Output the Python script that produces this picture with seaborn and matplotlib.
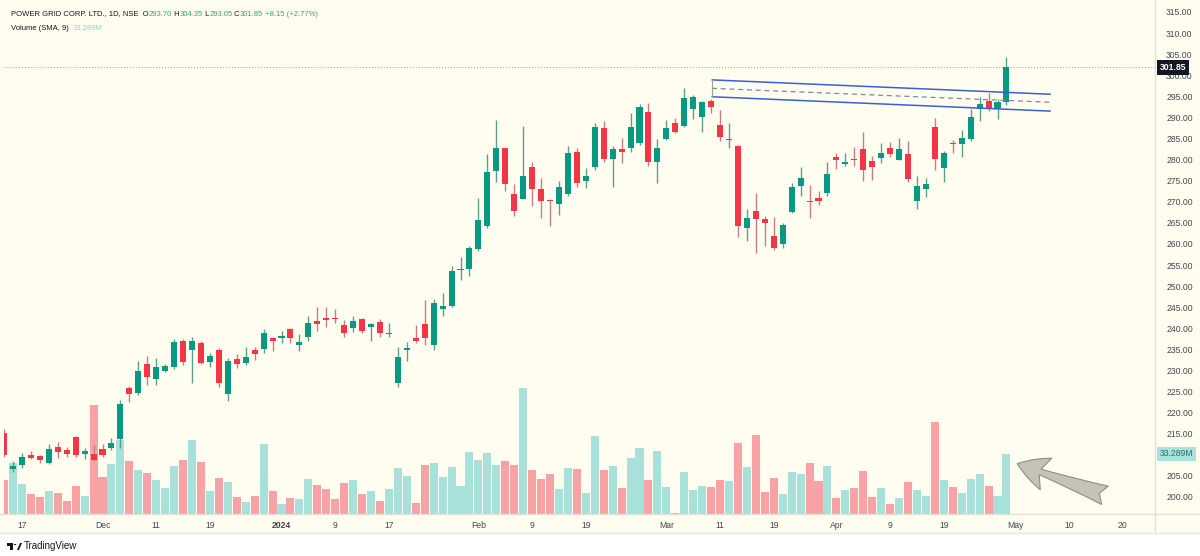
import numpy as np
import pandas as pd
import matplotlib
matplotlib.use("Agg")
import matplotlib.pyplot as plt
import matplotlib.transforms as mtransforms
from matplotlib.patches import Rectangle, Polygon, Circle
from matplotlib.lines import Line2D
from matplotlib import font_manager
import seaborn as sns

# ---------------- data ----------------
bar_index = list(range(-1, 112))   # trading-day index, 0 = 16 Nov 2023, 111 = 30 Apr 2024
opens = [215.2, 206.6, 207.6, 209.9, 209.8, 208.0, 211.8, 211.05, 214.3, 210.2,
         210.1, 211.4, 211.6, 213.7, 225.8, 224.7, 231.5, 227.9, 229.9, 230.9,
         237.05, 234.9, 236.6, 232.1, 234.85, 224.4, 232.8, 231.8, 234.85, 235.0,
         237.6, 237.8, 239.75, 236.0, 237.85, 241.7, 242.3, 242.4, 240.85, 240.15,
         242.1, 240.4, 241.4, 238.6, 227.1, 234.85, 237.8, 240.95, 236.0, 244.6,
         245.3, 253.8, 254.0, 258.8, 264.25, 277.4, 282.7, 271.8, 270.65, 278.3,
         272.95, 270.4, 269.5, 271.8, 281.7, 275.0, 278.2, 287.4, 280.1, 282.45,
         282.7, 284.0, 291.2, 279.5, 284.9, 288.75, 287.95, 291.9, 290.2, 293.9,
         288.2, 284.7, 283.2, 263.85, 267.9, 265.8, 262.0, 259.9, 267.65, 273.7,
         270.0, 270.8, 272.0, 280.55, 278.9, 280.1, 282.5, 279.75, 280.45, 282.7,
         279.9, 281.25, 270.2, 272.95, 287.65, 277.9, 283.9, 283.6, 284.9, 292.0,
         293.9, 292.3, 293.70]
highs = [216.0, 208.6, 210.5, 211.0, 210.0, 212.6, 213.0, 211.8, 214.4, 211.5,
         212.3, 212.6, 213.9, 223.0, 226.3, 232.2, 233.4, 232.9, 231.5, 237.4,
         237.45, 237.9, 237.0, 234.1, 235.25, 233.0, 233.8, 235.6, 235.6, 239.8,
         238.0, 239.3, 240.1, 238.6, 242.9, 245.0, 245.1, 244.5, 242.0, 243.0,
         242.35, 241.3, 242.1, 241.2, 235.6, 236.8, 240.7, 246.7, 246.9, 248.4,
         254.8, 256.8, 259.6, 270.8, 281.25, 289.4, 282.8, 274.1, 288.0, 279.5,
         275.7, 270.6, 274.9, 283.3, 282.8, 278.1, 288.75, 289.2, 283.3, 285.05,
         291.1, 293.2, 293.5, 284.9, 289.4, 289.8, 296.9, 295.3, 294.0, 294.3,
         291.8, 288.6, 283.45, 268.2, 272.0, 266.6, 266.45, 265.0, 274.4, 278.2,
         274.0, 272.6, 279.4, 281.6, 281.5, 282.9, 286.5, 280.85, 284.0, 284.25,
         285.2, 284.4, 276.0, 275.55, 289.8, 282.1, 284.65, 287.0, 291.9, 294.8,
         295.7, 294.3, 304.35]
lows = [209.5, 205.9, 206.9, 208.9, 208.1, 207.8, 209.3, 209.5, 209.5, 209.0,
        208.6, 209.5, 211.1, 211.5, 222.4, 224.2, 226.55, 226.55, 229.6, 230.3,
        231.3, 226.95, 231.45, 230.75, 226.1, 222.75, 230.5, 231.3, 232.5, 234.1,
        234.6, 236.4, 236.4, 234.7, 237.0, 239.4, 240.4, 241.3, 238.0, 239.0,
        238.8, 237.05, 238.0, 237.85, 226.0, 232.3, 236.4, 236.0, 234.85, 243.0,
        245.1, 251.45, 252.4, 258.3, 263.85, 274.8, 272.55, 266.7, 270.65, 269.0,
        266.2, 264.25, 266.9, 271.4, 273.4, 273.2, 277.5, 279.4, 273.4, 279.3,
        281.9, 283.5, 278.5, 274.4, 284.6, 286.25, 287.8, 289.6, 286.5, 291.0,
        284.5, 282.7, 261.7, 260.7, 257.8, 259.5, 258.55, 259.1, 267.3, 271.4,
        266.2, 269.2, 271.4, 277.7, 278.5, 278.5, 274.9, 275.2, 279.1, 280.7,
        279.9, 274.75, 268.3, 271.2, 277.5, 274.6, 281.6, 280.7, 284.4, 289.2,
        291.6, 289.55, 293.05]
closes = [210.0, 207.3, 209.4, 209.2, 208.8, 211.4, 210.7, 210.3, 210.0, 210.9,
          208.8, 210.0, 212.9, 222.0, 224.4, 229.9, 228.5, 230.7, 231.1, 236.8,
          231.9, 237.05, 231.7, 233.4, 226.95, 232.2, 231.6, 233.1, 233.8, 238.95,
          237.0, 238.2, 237.6, 236.8, 241.3, 241.0, 242.05, 242.1, 238.95, 241.7,
          239.4, 241.0, 238.95, 238.95, 233.25, 235.25, 237.0, 237.8, 245.9, 245.35,
          253.65, 254.0, 259.1, 265.7, 277.0, 282.7, 274.1, 267.9, 276.1, 272.95,
          270.25, 270.2, 273.4, 281.5, 274.5, 276.2, 287.65, 280.1, 282.45, 281.9,
          287.65, 292.4, 279.35, 282.7, 287.55, 286.6, 294.55, 294.9, 293.6, 292.55,
          285.4, 285.0, 264.25, 266.2, 265.9, 264.9, 259.1, 264.5, 273.6, 275.55,
          269.85, 270.2, 276.6, 279.9, 279.4, 279.9, 277.5, 278.3, 281.6, 281.25,
          282.45, 275.3, 273.8, 274.1, 280.1, 281.5, 283.65, 285.2, 290.2, 293.1,
          292.15, 293.6, 301.85]
volumes_m = [18.9, 28.3, 16.6, 11.1, 9.4, 12.8, 11.7, 7.2, 15.5, 10.0,
             60.5, 20.5, 27.7, 41.1, 29.4, 24.4, 22.7, 18.9, 14.4, 26.6,
             30.0, 41.1, 28.8, 12.8, 20.0, 17.8, 9.4, 6.7, 10.0, 38.8,
             12.8, 5.5, 8.9, 8.3, 19.4, 16.1, 13.9, 8.3, 17.2, 18.9,
             11.1, 12.8, 7.2, 13.9, 25.5, 21.1, 6.1, 27.2, 28.3, 20.5,
             26.1, 15.5, 34.4, 30.0, 33.8, 27.2, 29.4, 27.2, 69.9, 24.4,
             19.4, 22.2, 13.9, 25.5, 25.0, 11.7, 43.3, 24.4, 26.6, 14.4,
             31.1, 36.6, 18.9, 35.0, 15.0, 0.6, 23.3, 13.3, 15.5, 15.0,
             18.9, 18.3, 39.4, 26.1, 43.8, 12.2, 20.0, 11.1, 23.3, 22.2,
             28.3, 18.3, 26.6, 8.9, 13.3, 14.4, 23.9, 9.4, 14.4, 5.5,
             8.9, 17.8, 13.3, 10.0, 51.0, 18.9, 15.0, 11.7, 19.4, 22.2,
             15.5, 10.0, 33.289]
date_tick_pos = [1, 10, 16, 22, 30, 36, 42, 52, 58, 64, 73, 79, 85, 92, 98, 104, 112, 118, 124]
date_tick_labels = ["17", "Dec", "11", "19", "2024", "9", "17", "Feb", "9", "19",
                    "Mar", "11", "19", "Apr", "9", "19", "May", "10", "20"]
# 210.00 sits under the volume value label in the reference, so it is not shown
price_ticks = [200, 205, 215, 220, 225, 230, 235, 240, 245, 250, 255,
               260, 265, 270, 275, 280, 285, 290, 295, 300, 305, 310, 315]
channel_x = [78.1, 115.9]
channel_upper = [298.9, 295.5]
channel_lower = [294.9, 291.5]
channel_mid = [296.9, 293.6]
last_close = 301.85
last_volume = 33.289
arrow_tip = (112.2, 207.9)
arrow_tail = (122.0, 200.4)

# ---------------- style ----------------
sns.set_style("white")
plt.rcParams["font.family"] = ["Liberation Sans", "DejaVu Sans"]
installed = {f.name for f in font_manager.fontManager.ttflist}
HEAD_FONT = ["Liberation Sans Narrow", "Liberation Sans"] if "Liberation Sans Narrow" in installed \
    else ["Liberation Sans", "DejaVu Sans"]
HEAD_SIZE = 6.3 if "Liberation Sans Narrow" in installed else 5.5

BG = "#fffdef"
UP = "#089981"
DN = "#f23645"
UP_WICK = "#5f9d8d"
DN_WICK = "#c57f80"
VOL_UP = "#a7e1da"
VOL_DN = "#f7a3a6"
TXT = "#131722"
AXTXT = "#434651"
SEP = "#e0e0d8"

W, H = 1200, 556
fig = plt.figure(figsize=(12, 5.56), dpi=100, facecolor=BG)

def fx(px):
    return px / W

def fy(py):
    return 1 - py / H

left_px, right_px, top_px, bot_px = 4, 1155, 3, 514
rect = [fx(left_px), fy(bot_px), (right_px - left_px) / W, (bot_px - top_px) / H]

axv = fig.add_axes(rect)
ax = fig.add_axes(rect, sharex=axv)
ax.set_facecolor("none")
axv.set_facecolor(BG)

x = np.array(bar_index, dtype=float)
o = np.array(opens)
h = np.array(highs)
l = np.array(lows)
c = np.array(closes)
up = c >= o

# volume bars (seaborn)
vol_df = pd.DataFrame({"bar": x, "volume": volumes_m,
                       "dir": np.where(up, "up", "down")})
sns.barplot(data=vol_df, x="bar", y="volume", hue="dir",
            palette={"up": VOL_UP, "down": VOL_DN}, native_scale=True,
            dodge=False, width=0.9, errorbar=None, legend=False,
            saturation=1, linewidth=0, ax=axv)
axv.set_ylim(0, (bot_px - top_px) / (60 / 33.289))
axv.set_xlabel("")
axv.set_ylabel("")
axv.set_yticks([])
axv.tick_params(axis="x", length=0, labelbottom=False)
for s in axv.spines.values():
    s.set_visible(False)

# candles
ax.vlines(x, l, h, colors=np.where(up, UP_WICK, DN_WICK), linewidth=1.0, zorder=2)
ax.bar(x, np.maximum(np.abs(c - o), 0.3), bottom=np.minimum(o, c), width=0.68,
       color=np.where(up, UP, DN), linewidth=0, zorder=3)

# limits
px_per_bar = 8.95
x0_px = 13
ax.set_xlim((left_px - x0_px) / px_per_bar, (right_px - x0_px) / px_per_bar)
ppu = 4.217
ax.set_ylim(315 - (bot_px - 12) / ppu, 315 + (12 - top_px) / ppu)

# axes styling
ax.yaxis.tick_right()
ax.set_yticks(price_ticks)
ax.set_yticklabels([f"{v:.2f}" for v in price_ticks])
ax.tick_params(axis="y", length=0, pad=8, labelsize=6.2, labelcolor=AXTXT)
ax.set_xticks(date_tick_pos)
ax.set_xticklabels(date_tick_labels)
ax.tick_params(axis="x", length=0, pad=5, labelsize=6.2, labelcolor=AXTXT)
for lab in ax.get_xticklabels():
    if lab.get_text() == "2024":
        lab.set_fontweight("bold")
ax.grid(False)
for s in ax.spines.values():
    s.set_visible(False)

# last price dotted line
ax.axhline(last_close, color="#9a9aa0", linestyle=(0, (1, 2)), linewidth=0.7, zorder=1)

# channel lines
ax.plot(channel_x, channel_upper, color="#3b5fd8", linewidth=1.1, zorder=4)
ax.plot(channel_x, channel_lower, color="#3b5fd8", linewidth=1.1, zorder=4)
ax.plot(channel_x, channel_mid, color="#7d88a8", linewidth=0.9,
        linestyle=(0, (4, 3)), zorder=4)
ax.plot([channel_x[0], channel_x[0]], [channel_upper[0], channel_lower[0]],
        color="#a0a0a0", linewidth=0.8, zorder=4)

# arrow
ax.annotate("", xy=arrow_tip, xytext=arrow_tail,
            arrowprops=dict(arrowstyle="fancy,head_length=0.55,head_width=0.6,tail_width=0.35",
                            mutation_scale=40, fc="#c3c3b6", ec="#8e8e86", lw=0.8,
                            shrinkA=0, shrinkB=0),
            annotation_clip=False, zorder=6)

# value labels on the price axis
lab_x = 1.0 + 5 / (right_px - left_px)
tr_price = mtransforms.blended_transform_factory(ax.transAxes, ax.transData)
ax.text(lab_x, last_close, f"{last_close:.2f}",
        transform=tr_price, ha="left", va="center", fontsize=6.2, color="white",
        fontweight="bold",
        bbox=dict(boxstyle="square,pad=0.3", fc=TXT, ec="none"),
        clip_on=False, zorder=10)
tr_vol = mtransforms.blended_transform_factory(axv.transAxes, axv.transData)
ax.text(lab_x, last_volume, f"{last_volume:.3f}M",
        transform=tr_vol, ha="left", va="center", fontsize=6.2,
        color="#2d6e68",
        bbox=dict(boxstyle="square,pad=0.3", fc="#a8e2db", ec="none"),
        clip_on=False, zorder=10)

# separators / frame
fig.add_artist(Line2D([fx(right_px), fx(right_px)], [fy(0), fy(533)],
                      transform=fig.transFigure, color=SEP, linewidth=1))
fig.add_artist(Line2D([0, 1], [fy(bot_px), fy(bot_px)],
                      transform=fig.transFigure, color=SEP, linewidth=1))
fig.add_artist(Rectangle((0, 0), 1, fy(533), transform=fig.transFigure,
                         facecolor="white", edgecolor="none", zorder=-1))
fig.add_artist(Line2D([0, 1], [fy(533), fy(533)],
                      transform=fig.transFigure, color="#e6e6e6", linewidth=1))

# header legend
GREEN = "#35ad5a"
def chain(parts, x_px, y_px, size=HEAD_SIZE):
    prev = fig.text(fx(x_px), fy(y_px), parts[0][0], color=parts[0][1],
                    fontsize=size, ha="left", va="center", family=HEAD_FONT)
    for s, col in parts[1:]:
        prev = ax.annotate(s, xy=(1, 0), xycoords=prev, ha="left", va="bottom",
                           color=col, fontsize=size, family=HEAD_FONT)
    return prev

chain([("POWER GRID CORP. LTD., 1D, NSE  O", TXT), ("293.70", GREEN), (" H", TXT),
       ("304.35", GREEN), (" L", TXT), ("293.05", GREEN), (" C", TXT),
       ("301.85", GREEN), (" +8.15 (+2.77%)", GREEN)], 11, 14)
chain([("Volume (SMA, 9)  ", TXT), ("33.289M", "#92d5ce")], 11, 28)

# TradingView footer
fig.add_artist(Rectangle((fx(7), fy(546)), fx(6), 3 / H, transform=fig.transFigure,
                         facecolor=TXT, edgecolor="none"))
fig.add_artist(Rectangle((fx(10), fy(550)), fx(3), 7 / H, transform=fig.transFigure,
                         facecolor=TXT, edgecolor="none"))
fig.add_artist(Circle((fx(15), fy(544.5)), 1.3 / W, transform=fig.transFigure,
                      facecolor=TXT, edgecolor="none"))
fig.add_artist(Polygon([[fx(17), fy(550)], [fx(20), fy(543)], [fx(22), fy(543)],
                        [fx(19), fy(550)]], closed=True, transform=fig.transFigure,
                       facecolor=TXT, edgecolor="none"))
fig.text(fx(24), fy(546), "TradingView", fontsize=7, color=TXT, ha="left", va="center")

fig.savefig("out.png", dpi=100, facecolor=BG)
